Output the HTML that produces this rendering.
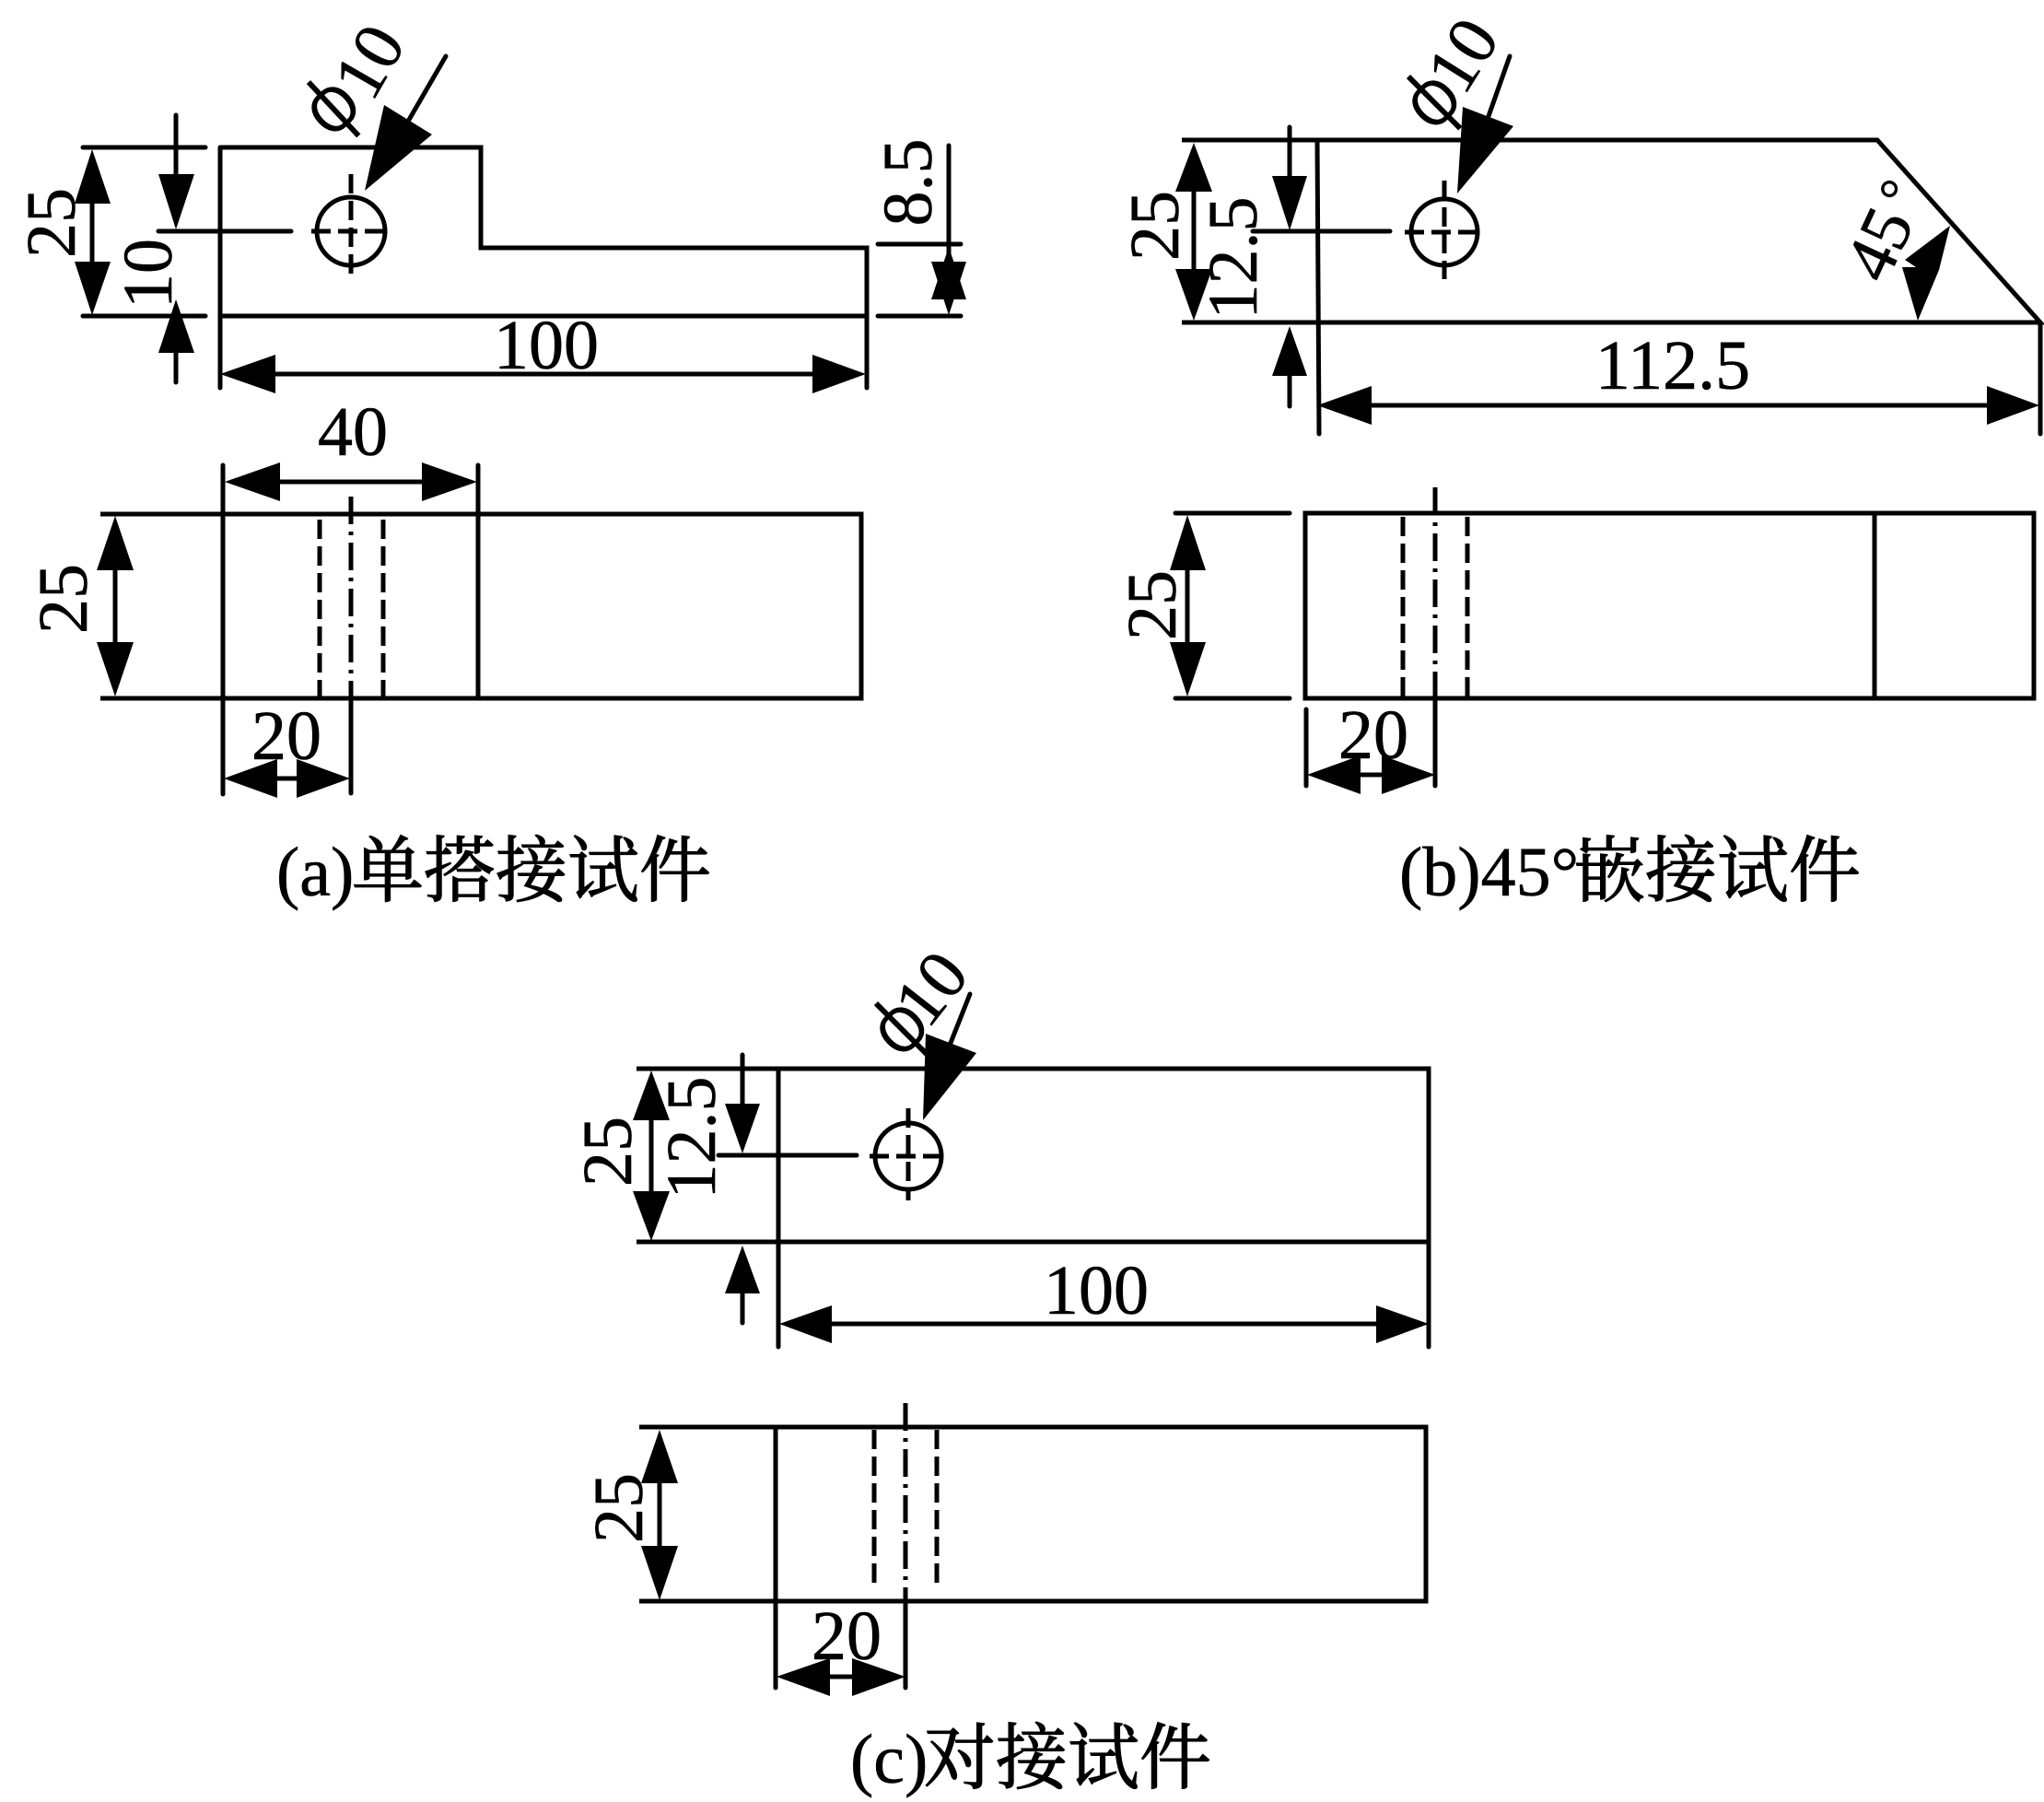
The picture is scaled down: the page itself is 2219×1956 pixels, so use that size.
<!DOCTYPE html>
<html><head><meta charset="utf-8"><style>
html,body{margin:0;padding:0;background:#fff}
svg{display:block}
text{font-family:"Liberation Serif","Noto Serif CJK SC",serif;font-size:76px;fill:#000;stroke:#000;stroke-width:.6;text-anchor:middle}
.c{font-size:76px;text-anchor:start}
.z{font-size:78px;stroke-width:1.3}
.p{font-family:"DejaVu Sans",sans-serif;font-size:84px;stroke:#fff;stroke-width:1.6}
line,polyline,circle{stroke:#000;stroke-width:5;fill:none;stroke-linecap:round}
polyline{stroke-linejoin:miter;stroke-linecap:butt}
polygon{fill:#000;stroke:none}
.d{stroke-dasharray:21 8;stroke-linecap:butt}
.cd{stroke-dasharray:30 8 4 8;stroke-linecap:butt}
</style></head><body>
<svg width="2219" height="1956" viewBox="0 0 2219 1956" xmlns="http://www.w3.org/2000/svg">
<rect width="2219" height="1956" fill="#fff"/>

<!-- (a) top -->
<polyline points="239,160 522,160 522,269 941,269 941,344"/>
<line x1="90" y1="160" x2="223" y2="160"/>
<line x1="90" y1="343" x2="223" y2="343"/>
<line x1="239" y1="160" x2="239" y2="421"/>
<line x1="239" y1="343" x2="941" y2="343"/>
<line x1="941" y1="344" x2="941" y2="421"/>
<line x1="100" y1="200" x2="100" y2="300"/>
<polygon points="100,162 81,221 120,221"/><polygon points="100,342 81,284 120,284"/>
<line x1="191" y1="125" x2="191" y2="200"/>
<polygon points="191,249 172,189 211,189"/>
<line x1="172" y1="251" x2="316" y2="251"/>
<line x1="338" y1="251" x2="422" y2="251" class="d"/>
<circle cx="381" cy="251" r="37"/>
<line x1="381" y1="189" x2="381" y2="301" class="d"/>
<polygon points="191,325 172,383 211,383"/>
<line x1="191" y1="380" x2="191" y2="415"/>
<text transform="translate(56,242) rotate(-90)" y="25">25</text>
<text transform="translate(161,297) rotate(-90)" y="25">10</text>
<text class="p" transform="translate(363,119) rotate(-43)" y="22">ϕ</text>
<text transform="translate(401,67) rotate(-60)" y="25">10</text>
<line x1="484" y1="61" x2="444" y2="130"/>
<polygon points="396,207 417,114 469,146"/>
<text transform="translate(986,198) rotate(-90)" y="25">8.5</text>
<line x1="1030" y1="158" x2="1030" y2="290"/>
<line x1="953" y1="265" x2="1043" y2="265"/>
<line x1="953" y1="343" x2="1043" y2="343"/>
<polygon points="1030,268 1011,325 1049,325"/><polygon points="1030,342 1011,284 1049,284"/>
<text x="593" y="400">100</text>
<line x1="280" y1="406" x2="900" y2="406"/>
<polygon points="239,406 299,385 299,427"/><polygon points="940,406 882,385 882,427"/>

<!-- (a) bottom -->
<polyline points="109,558 935,558 935,758 109,758"/>
<line x1="242" y1="505" x2="242" y2="862"/>
<line x1="519" y1="505" x2="519" y2="758"/>
<line x1="347" y1="564" x2="347" y2="758" class="d"/>
<line x1="416" y1="564" x2="416" y2="758" class="d"/>
<line x1="381" y1="539" x2="381" y2="758" class="cd"/>
<line x1="381" y1="758" x2="381" y2="861"/>
<text x="383" y="494">40</text>
<line x1="290" y1="523" x2="470" y2="523"/>
<polygon points="244,523 304,502 304,544"/><polygon points="518,523 458,502 458,544"/>
<line x1="125" y1="600" x2="125" y2="720"/>
<polygon points="125,560 105,619 145,619"/><polygon points="125,756 105,697 145,697"/>
<text transform="translate(69,650) rotate(-90)" y="25">25</text>
<text x="311" y="824">20</text>
<line x1="290" y1="845" x2="340" y2="845"/>
<polygon points="243,845 301,824 301,866"/><polygon points="380,845 322,824 322,866"/>
<text class="c" x="300" y="972">(a)</text>
<text class="c z" x="382" y="972">单搭接试件</text>

<!-- (b) top -->
<polyline points="1283,152 2038,152 2215,350 1283,350"/>
<line x1="1430" y1="152" x2="1432" y2="471"/>
<line x1="2215" y1="350" x2="2215" y2="471"/>
<line x1="1296" y1="190" x2="1296" y2="310"/>
<polygon points="1296,155 1276,208 1316,208"/><polygon points="1296,348 1276,292 1316,292"/>
<text transform="translate(1254,245) rotate(-90)" y="25">25</text>
<text transform="translate(1339,280) rotate(-90)" y="25">12.5</text>
<line x1="1400" y1="138" x2="1400" y2="200"/>
<polygon points="1400,250 1381,191 1419,191"/>
<line x1="1360" y1="251" x2="1509" y2="251"/>
<line x1="1525" y1="252" x2="1604" y2="252" class="d"/>
<circle cx="1568" cy="252" r="36"/>
<line x1="1568" y1="196" x2="1568" y2="303" class="d"/>
<polygon points="1400,354 1381,408 1419,408"/>
<line x1="1400" y1="400" x2="1400" y2="441"/>
<text class="p" transform="translate(1558,112) rotate(-45)" y="22">ϕ</text>
<text transform="translate(1588,60) rotate(-58)" y="25">10</text>
<line x1="1639" y1="61" x2="1616" y2="126"/>
<polygon points="1582,210 1588,116 1643,137"/>
<text transform="translate(2040,265) rotate(-65)" y="25">45</text>
<text transform="translate(2051,205) rotate(-65)" y="30" style="font-size:58px">°</text>
<polygon points="2117,245 2068,282 2080,290 2065,290 2082,348 2105,293"/>
<text x="1816" y="422">112.5</text>
<line x1="1470" y1="440" x2="2180" y2="440"/>
<polygon points="1430,440 1489,419 1489,461"/><polygon points="2214,440 2157,419 2157,461"/>

<!-- (b) bottom -->
<rect x="1417" y="557" width="791" height="201" fill="none" stroke="#000" stroke-width="5"/>
<line x1="2035" y1="557" x2="2035" y2="758"/>
<line x1="1276" y1="557" x2="1400" y2="557"/>
<line x1="1276" y1="758" x2="1400" y2="758"/>
<line x1="1289" y1="600" x2="1289" y2="720"/>
<polygon points="1289,559 1270,619 1309,619"/><polygon points="1289,756 1270,697 1309,697"/>
<text transform="translate(1251,657) rotate(-90)" y="25">25</text>
<line x1="1523" y1="561" x2="1523" y2="758" class="d"/>
<line x1="1593" y1="561" x2="1593" y2="758" class="d"/>
<line x1="1558" y1="529" x2="1558" y2="758" class="cd"/>
<line x1="1558" y1="758" x2="1558" y2="853"/>
<line x1="1418" y1="770" x2="1418" y2="853"/>
<text x="1491" y="823">20</text>
<line x1="1470" y1="841" x2="1510" y2="841"/>
<polygon points="1419,841 1477,820 1477,862"/><polygon points="1558,841 1500,820 1500,862"/>
<text class="c" x="1519" y="972">(b)45°</text>
<text class="c z" x="1708" y="972">嵌接试件</text>

<!-- (c) top -->
<polyline points="691,1160 1551,1160 1551,1348 691,1348"/>
<line x1="845" y1="1160" x2="845" y2="1462"/>
<line x1="1551" y1="1348" x2="1551" y2="1462"/>
<line x1="707" y1="1200" x2="707" y2="1310"/>
<polygon points="707,1162 687,1216 727,1216"/><polygon points="707,1347 687,1293 727,1293"/>
<text transform="translate(660,1250) rotate(-90)" y="25">25</text>
<text transform="translate(751,1235) rotate(-90)" y="25">12.5</text>
<line x1="806" y1="1145" x2="806" y2="1205"/>
<polygon points="806,1252 787,1198 825,1198"/>
<line x1="780" y1="1254" x2="930" y2="1254"/>
<line x1="944" y1="1255" x2="1024" y2="1255" class="d"/>
<circle cx="986" cy="1255" r="36"/>
<line x1="986" y1="1203" x2="986" y2="1303" class="d"/>
<polygon points="806,1352 787,1404 825,1404"/>
<line x1="806" y1="1400" x2="806" y2="1436"/>
<text class="p" transform="translate(980,1118) rotate(-45)" y="22">ϕ</text>
<text transform="translate(1011,1073) rotate(-52)" y="25">10</text>
<line x1="1053" y1="1079" x2="1032" y2="1132"/>
<polygon points="1002,1216 1005,1122 1060,1143"/>
<text x="1190" y="1426">100</text>
<line x1="890" y1="1437" x2="1510" y2="1437"/>
<polygon points="846,1437 903,1417 903,1458"/><polygon points="1551,1437 1494,1417 1494,1458"/>

<!-- (c) bottom -->
<polyline points="694,1549 1548,1549 1548,1738 694,1738"/>
<line x1="842" y1="1549" x2="842" y2="1832"/>
<line x1="716" y1="1590" x2="716" y2="1700"/>
<polygon points="716,1552 696,1610 736,1610"/><polygon points="716,1737 696,1678 736,1678"/>
<text transform="translate(672,1637) rotate(-90)" y="25">25</text>
<line x1="949" y1="1552" x2="949" y2="1722" class="d"/>
<line x1="1017" y1="1552" x2="1017" y2="1722" class="d"/>
<line x1="983" y1="1523" x2="983" y2="1738" class="cd"/>
<line x1="983" y1="1738" x2="983" y2="1832"/>
<text x="919" y="1801">20</text>
<line x1="890" y1="1820" x2="930" y2="1820"/>
<polygon points="843,1820 901,1800 901,1841"/><polygon points="983,1820 925,1800 925,1841"/>
<text class="c" x="923" y="1935">(c)</text>
<text class="c z" x="1003" y="1935">对接试件</text>
</svg>
</body></html>
